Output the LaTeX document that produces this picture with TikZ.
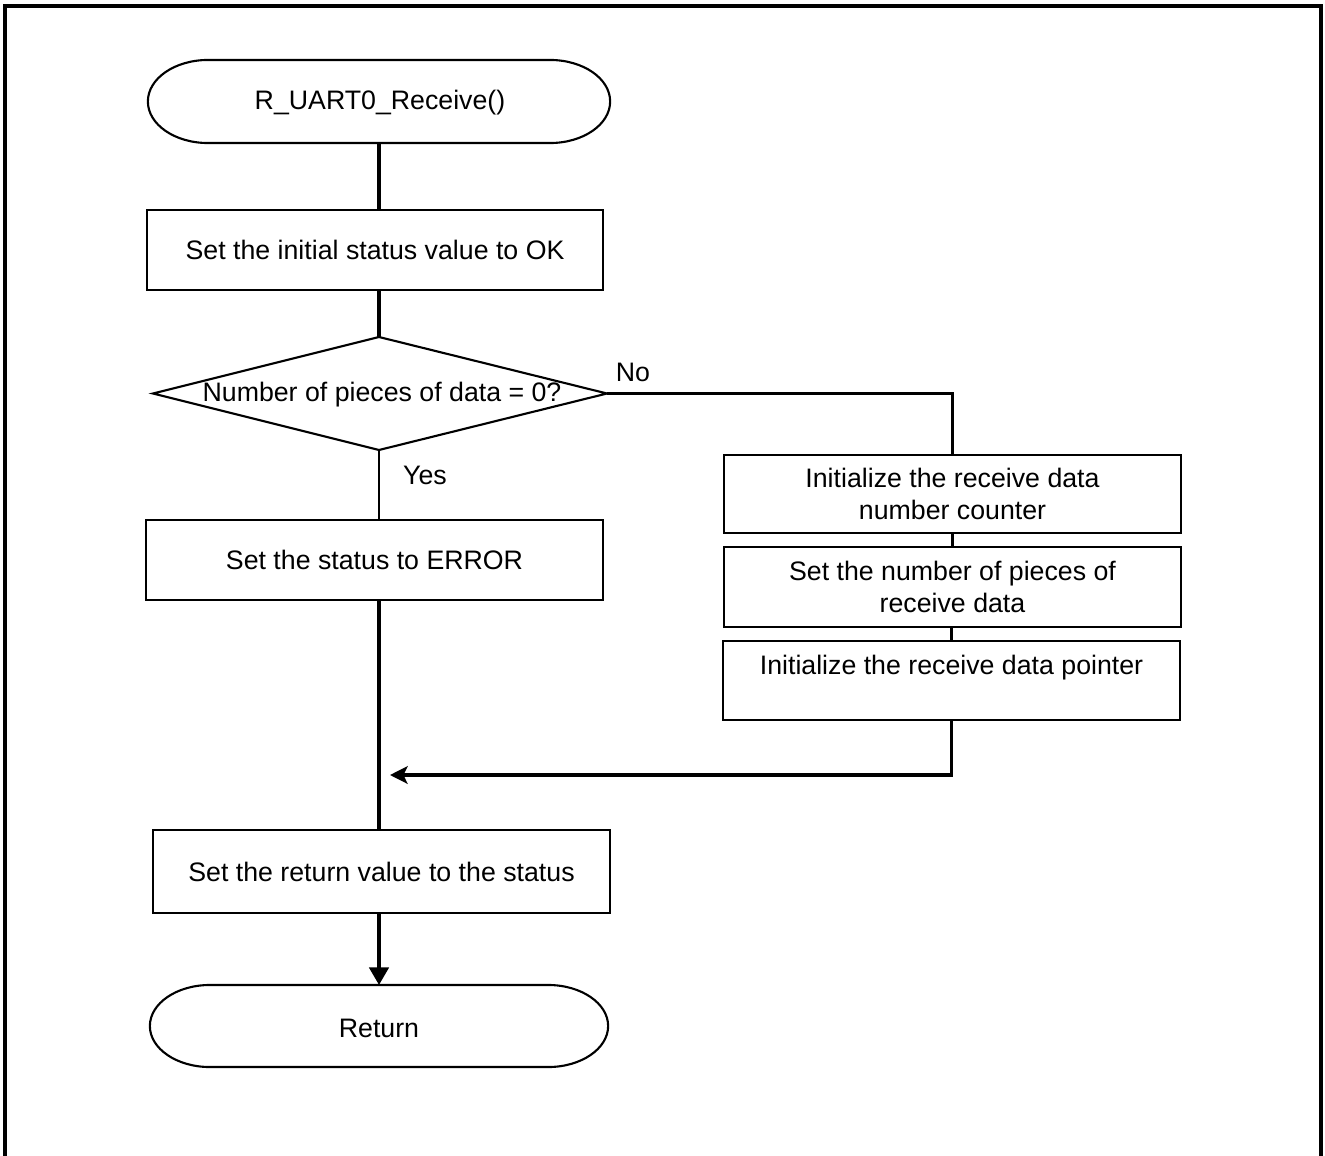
\documentclass[tikz,border=0pt]{standalone}
\usepackage{fontspec}
\setmainfont{Liberation Sans}
\usetikzlibrary{arrows.meta}
\newcommand\termshape[2]{%
  \draw[thinl] ([xshift=0.6cm]#1.north west) -- ([xshift=-0.6cm]#1.north east)
    arc[start angle=90,end angle=-90,x radius=0.6cm,y radius=#2]
    -- ([xshift=0.6cm]#1.south west)
    arc[start angle=270,end angle=90,x radius=0.6cm,y radius=#2] -- cycle;}
\begin{document}
\begin{tikzpicture}[x=0.01cm,y=-0.01cm,
  every node/.style={font=\fontsize{7.6pt}{9.1pt}\selectfont, inner sep=0pt},
  box/.style={draw, line width=0.6pt, minimum width=4.57cm, minimum height=0.8cm, align=center},
  term/.style={outer sep=0pt},
  thinl/.style={line width=0.6pt},
  thickl/.style={line width=1pt},
  ]
\useasboundingbox (0,0) rectangle (1325,1155);
\draw[line width=0.9pt] (5,1160) -- (5,6) -- (1321,6) -- (1321,1160);

% start terminal
\node[term, minimum width=4.62cm, minimum height=0.83cm] (start) at (379,101.5) {};
\termshape{start}{0.415cm}
\node (starttext) at (380,103) {R\_UART0\_Receive()};

\node[box, minimum width=4.56cm] (b1) at (375,250) {Set the initial status value to OK};

% decision
\coordinate (dt) at (379,337);
\coordinate (db) at (379,450);
\coordinate (dl) at (153,393.5);
\coordinate (dr) at (607,393.5);
\draw[thinl] (dl) -- (dt) -- (dr) -- (db) -- cycle;
\node (dec) at (382,394.5) {Number of pieces of data = 0?};

\node[box] (b2) at (374.5,560) {Set the status to ERROR};

\node[box, minimum height=0.78cm] (b3) at (952.5,494) {Initialize the receive data\\number counter};
\node[box] (b4) at (952.5,587) {Set the number of pieces of\\receive data};
\node[box, minimum height=0.79cm] (b5) at (951.5,680.5) {Initialize the receive data pointer\\~};

\node[box, minimum height=0.83cm] (b6) at (381.5,871.5) {Set the return value to the status};

\node[term, minimum width=4.58cm, minimum height=0.82cm] (ret) at (379,1026) {};
\termshape{ret}{0.41cm}
\node (rettext) at (379,1028) {Return};

\node (no) at (633,372) {No};
\node (yes) at (425,475) {Yes};
\coordinate (merge) at (390,775);

% connectors
\draw[thickl] (start.south -| dt) -- (b1.north -| dt);
\draw[thickl] (b1.south -| dt) -- (dt);
\draw[thinl] (db) -- (b2.north -| db);
\draw[thinl] (dr) -- (dr -| b3.north) -- (b3.north);
\draw[thinl] (b3.south) -- (b4.north);
\draw[thinl] (b4.south -| b5.north) -- (b5.north);
\draw[thickl, -{Stealth[length=5pt,width=5pt,inset=1.2pt]}] (b5.south) |- (merge);
\draw[thickl] (b2.south -| db) -- (b6.north -| db);
\draw[thickl, -{Triangle[length=5pt,width=5.5pt]}] (b6.south -| db) -- (ret.north -| db);
\end{tikzpicture}
\end{document}
